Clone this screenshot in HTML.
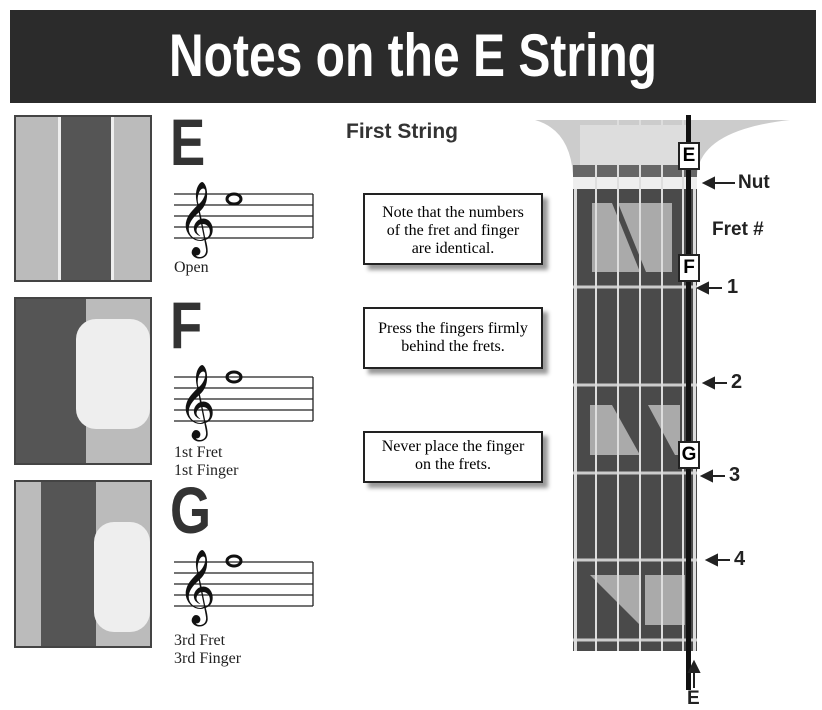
<!DOCTYPE html><html><head><style>
body{margin:0;width:822px;height:710px;background:#fff;position:relative;overflow:hidden;font-family:"Liberation Serif",serif}
.a{position:absolute}
.t{font-family:"Liberation Sans",sans-serif;font-weight:bold}
.box{position:absolute;background:#fff;border:2px solid #222;box-shadow:5px 5px 4px #999;text-align:center;font-size:16px;line-height:18px;box-sizing:border-box;padding-left:12px;padding-right:12px}
.pic{position:absolute;border:2px solid #444;background:#bbb;overflow:hidden}
.lt{position:absolute;font-family:"Liberation Sans",sans-serif;font-weight:bold;font-size:66px;color:#333;transform:scaleX(0.8);transform-origin:left}
.lab{position:absolute;font-size:16px;line-height:18px;color:#222}
</style></head><body>
<div class="a" style="left:10px;top:10px;width:806px;height:93px;background:#2b2b2b"></div>
<div class="a t" style="left:10px;top:14px;width:806px;text-align:center;color:#fff;font-size:60px;line-height:84px;transform:scaleX(0.8)">Notes on the E String</div>

<div class="pic" style="left:14px;top:115px;width:134px;height:163px"><div class="a" style="left:42px;top:0;width:50px;height:163px;background:#555;border-left:3px solid #eee;border-right:3px solid #eee"></div></div>
<div class="pic" style="left:14px;top:297px;width:134px;height:164px"><div class="a" style="left:0;top:0;width:70px;height:164px;background:#555"></div><div class="a" style="left:60px;top:20px;width:74px;height:110px;background:#eee;border-radius:20px"></div></div>
<div class="pic" style="left:14px;top:480px;width:134px;height:164px"><div class="a" style="left:25px;top:0;width:55px;height:164px;background:#555"></div><div class="a" style="left:78px;top:40px;width:56px;height:110px;background:#eee;border-radius:20px"></div></div>

<div class="lt" style="left:170px;top:104px">E</div>
<div class="lt" style="left:170px;top:287px">F</div>
<div class="lt" style="left:170px;top:472px">G</div>

<svg class="a" style="left:0;top:0" width="822" height="710">
<g stroke="#222" stroke-width="1.3">
<path d="M174 194H313M174 205H313M174 216H313M174 227H313M174 238H313M313 194V238"/>
<path d="M174 377H313M174 388H313M174 399H313M174 410H313M174 421H313M313 377V421"/>
<path d="M174 562H313M174 573H313M174 584H313M174 595H313M174 606H313M313 562V606"/>
</g>
<g font-size="64" font-family="DejaVu Sans" fill="#111"><text x="178" y="240">𝄞</text><text x="178" y="423">𝄞</text><text x="178" y="608">𝄞</text></g>
<g fill="none" stroke="#111" stroke-width="3"><ellipse cx="234" cy="199" rx="7" ry="5"/><ellipse cx="234" cy="377" rx="7" ry="5"/><ellipse cx="234" cy="561" rx="7" ry="5"/></g>

<path d="M535 120H790Q700 130 697 175H573Q570 130 535 120Z" fill="#ccc"/>
<rect x="580" y="125" width="110" height="40" fill="#ddd"/>
<rect x="573" y="165" width="124" height="12" fill="#666"/>
<rect x="573" y="177" width="124" height="12" fill="#eee"/>
<rect x="573" y="189" width="124" height="462" fill="#4a4a4a"/>
<g fill="#aaa"><path d="M592 203H672V272H592Z"/><path d="M590 405H612L640 455H590Z" /><path d="M648 405H680V455H675Z"/><path d="M590 575H640V625Z"/><path d="M645 575H685V625H645Z"/></g>
<path d="M612 203L640 272L646 272L618 203Z" fill="#4a4a4a"/>
<g stroke="#ccc" stroke-width="3"><path d="M573 287H697M573 385H697M573 473H697M573 560H697M573 640H697"/></g>
<g stroke="#ddd" stroke-width="2"><path d="M596 130V651M618 120V651M640 120V651M662 120V651M683 120V651"/></g>
<rect x="574" y="189" width="3" height="462" fill="#ddd"/><rect x="693" y="189" width="3" height="462" fill="#ddd"/>
<rect x="686" y="115" width="5" height="575" fill="#111"/>
<g stroke="#222" stroke-width="2" fill="#222">
<path d="M706 183H735"/><path d="M704 183l10-5v10z"/>
<path d="M700 288H722"/><path d="M698 288l10-5v10z"/>
<path d="M706 383H727"/><path d="M704 383l10-5v10z"/>
<path d="M704 476H725"/><path d="M702 476l10-5v10z"/>
<path d="M709 560H730"/><path d="M707 560l10-5v10z"/>
<path d="M694 688V670"/><path d="M694 662l-5 10h10z"/>
</g>
</svg>
<div class="a t" style="left:738px;top:172px;font-size:19px;color:#222">Nut</div>
<div class="a t" style="left:712px;top:219px;font-size:19px;color:#222">Fret #</div>
<div class="a t" style="left:727px;top:276px;font-size:20px;color:#222">1</div>
<div class="a t" style="left:731px;top:371px;font-size:20px;color:#222">2</div>
<div class="a t" style="left:729px;top:464px;font-size:20px;color:#222">3</div>
<div class="a t" style="left:734px;top:548px;font-size:20px;color:#222">4</div>
<div class="a t" style="left:687px;top:688px;font-size:19px;color:#222">E</div>
<div class="a t" style="left:678px;top:142px;width:18px;height:24px;background:#fff;border:2px solid #222;font-size:19px;text-align:center;line-height:24px">E</div>
<div class="a t" style="left:678px;top:254px;width:18px;height:24px;background:#fff;border:2px solid #222;font-size:19px;text-align:center;line-height:24px">F</div>
<div class="a t" style="left:678px;top:441px;width:18px;height:24px;background:#fff;border:2px solid #222;font-size:19px;text-align:center;line-height:24px">G</div>

<div class="a t" style="left:346px;top:120px;font-size:21px;color:#333">First String</div>
<div class="box" style="left:363px;top:193px;width:180px;height:72px;line-height:18px;padding-top:9px">Note that the numbers of the fret and finger are identical.</div>
<div class="box" style="left:363px;top:307px;width:180px;height:62px;padding-top:11px">Press the fingers firmly behind the frets.</div>
<div class="box" style="left:363px;top:431px;width:180px;height:52px;padding-top:5px">Never place the finger on the frets.</div>

<div class="lab" style="left:174px;top:259px">Open</div>
<div class="lab" style="left:174px;top:444px">1st Fret<br>1st Finger</div>
<div class="lab" style="left:174px;top:632px">3rd Fret<br>3rd Finger</div>
</body></html>
